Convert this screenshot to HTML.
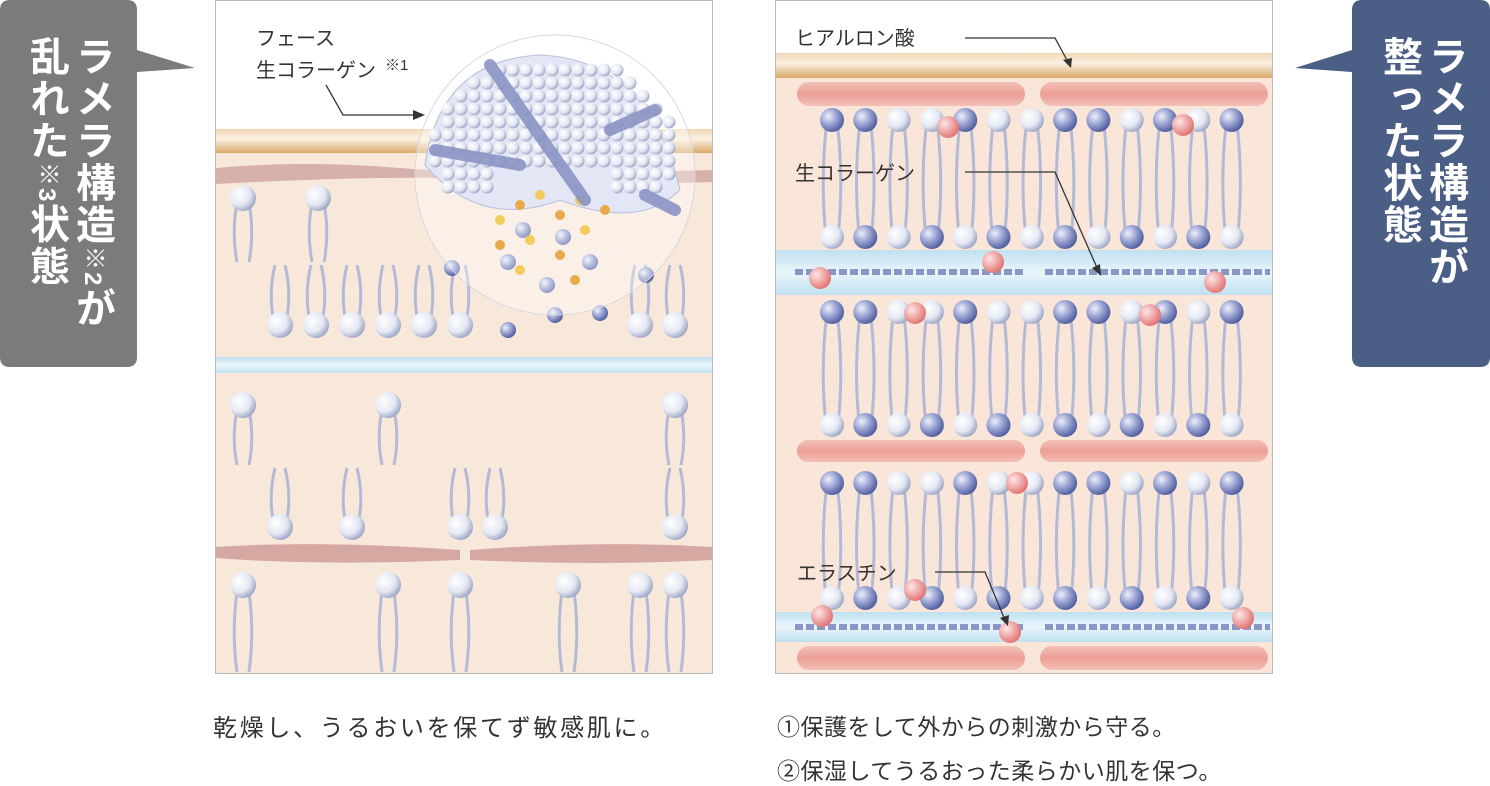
<!DOCTYPE html>
<html><head><meta charset="utf-8"><style>
body{margin:0;width:1490px;height:784px;background:#fff;overflow:hidden;position:relative;font-family:"Liberation Sans","Noto Sans CJK JP",sans-serif}
.cap{position:absolute;font-size:23px;color:#333;letter-spacing:0.5px}
.vt{position:absolute;writing-mode:vertical-rl;color:#fff;font-size:40px;font-weight:bold;line-height:46px;letter-spacing:2px}
</style></head><body>
<svg id="s" width="1490" height="784" style="position:absolute;left:0;top:0">
<defs>
<radialGradient id="hw" cx="0.35" cy="0.35" r="0.7"><stop offset="0" stop-color="#ffffff"/><stop offset="0.6" stop-color="#e4e8f3"/><stop offset="1" stop-color="#9aa3c3"/></radialGradient>
<radialGradient id="hb" cx="0.35" cy="0.35" r="0.7"><stop offset="0" stop-color="#eef0fa"/><stop offset="0.5" stop-color="#98a2d2"/><stop offset="1" stop-color="#4d5a9a"/></radialGradient>
<radialGradient id="hp" cx="0.35" cy="0.35" r="0.7"><stop offset="0" stop-color="#ffe6e6"/><stop offset="1" stop-color="#e0706e"/></radialGradient>
<linearGradient id="band" x1="0" y1="0" x2="0" y2="1"><stop offset="0" stop-color="#f1d7b4"/><stop offset="0.4" stop-color="#fbf1e2"/><stop offset="1" stop-color="#d9aa6a"/></linearGradient>
<linearGradient id="blue" x1="0" y1="0" x2="0" y2="1"><stop offset="0" stop-color="#bfe0f0"/><stop offset="0.5" stop-color="#eaf6fb"/><stop offset="1" stop-color="#bfe0f0"/></linearGradient>
<linearGradient id="pk" x1="0" y1="0" x2="0" y2="1"><stop offset="0" stop-color="#f2c0b8"/><stop offset="0.5" stop-color="#ec9f96"/><stop offset="1" stop-color="#f2c0b8"/></linearGradient>
</defs>
<path d="M10 0 H127 Q137 0 137 10 V50 L195 68 L137 72 V357 Q137 367 127 367 H10 Q0 367 0 357 V10 Q0 0 10 0Z" fill="#7b7b7b"/>
<path d="M1362 0 H1480 Q1490 0 1490 10 V357 Q1490 367 1480 367 H1362 Q1352 367 1352 357 V72 L1295 68 L1352 50 V10 Q1352 0 1362 0Z" fill="#4b5e86"/>
<rect x="215.5" y="0.5" width="497" height="673" fill="#f8e8da" stroke="#bbb"/>
<rect x="216" y="1" width="496" height="128" fill="#fff"/>
<rect x="216" y="129" width="496" height="24" fill="url(#band)"/>
<path d="M216 168 Q300 160 400 168 T712 170 V182 Q600 186 500 180 T216 184Z" fill="#d6b0aa"/>
<rect x="216" y="357" width="496" height="16" fill="url(#blue)"/>
<path d="M216 547 Q320 540 460 550 V560 Q320 566 216 558Z" fill="#d6a8a2"/>
<path d="M470 550 Q600 540 712 547 V560 Q600 566 470 560Z" fill="#d6a8a2"/>
<rect x="775.5" y="0.5" width="497" height="673" fill="#f9e6d8" stroke="#bbb"/>
<rect x="776" y="1" width="496" height="52" fill="#fff"/>
<rect x="776" y="53" width="496" height="25" fill="url(#band)"/>
<rect x="776" y="250" width="496" height="45" fill="url(#blue)"/>
<rect x="776" y="612" width="496" height="30" fill="url(#blue)"/>
<g fill="url(#pk)">
<rect x="797" y="82" width="228" height="24" rx="12"/><rect x="1040" y="82" width="228" height="24" rx="12"/>
<rect x="797" y="440" width="228" height="22" rx="11"/><rect x="1040" y="440" width="228" height="22" rx="11"/>
<rect x="797" y="646" width="228" height="24" rx="12"/><rect x="1040" y="646" width="228" height="24" rx="12"/>
</g>
<g stroke="#8c96c6" stroke-width="6" fill="none" stroke-dasharray="8 3">
<path d="M795 272 H1025"/><path d="M1045 272 H1270"/><path d="M795 627 H1025"/><path d="M1045 627 H1270"/>
</g>
<g id="lip"></g>
<circle cx="555" cy="175" r="140" fill="rgba(255,255,255,0.35)" stroke="#d8d8e0"/>
<path d="M425 165 Q440 60 540 55 Q650 60 680 190 Q640 230 560 200 Q480 230 425 165Z" fill="#e3e7f5" stroke="#b8c0dc"/>
<g id="dots"></g>
<g stroke="#8b94c4" stroke-width="12" stroke-linecap="round" fill="none" opacity="0.9">
<path d="M490 65 L585 200"/><path d="M435 150 L520 165"/><path d="M610 130 L655 110"/><path d="M645 195 L675 210"/>
</g>
<g stroke="#333" stroke-width="1.3" fill="none">
<path d="M326 85 L343 115 H415"/><path d="M965 38 H1055 L1068 62"/><path d="M965 172 H1055 L1098 270"/><path d="M935 572 H985 L1005 620"/>
</g>
<g fill="#333"><path d="M425 115 L413 110 V120Z"/><path d="M1071 68 L1063 60 L1072 58Z"/><path d="M1101 276 L1092 268 L1100 264Z"/><path d="M1008 626 L1000 618 L1009 615Z"/></g>
<g font-size="20" fill="#333" font-family="Liberation Sans,Noto Sans CJK JP,sans-serif">
<text x="256" y="45">フェース</text><text x="256" y="77">生コラーゲン</text><text x="385" y="70" font-size="15">※1</text>
<text x="795" y="45">ヒアルロン酸</text><text x="795" y="180">生コラーゲン</text><text x="797" y="580">エラスチン</text>
</g>
</svg>
<div class="vt" style="right:1375px;top:36px">ラメラ構造<span style="font-size:24px">※2</span>が</div>
<div class="vt" style="right:1421px;top:36px">乱れた<span style="font-size:24px">※3</span>状態</div>
<div class="vt" style="left:1422px;top:36px">ラメラ構造が</div>
<div class="vt" style="left:1376px;top:36px">整った状態</div>
<div class="cap" style="left:213px;top:708px;font-size:24px;letter-spacing:2.7px">乾燥し、うるおいを保てず敏感肌に。</div>
<div class="cap" style="left:777px;top:708px">①保護をして外からの刺激から守る。</div>
<div class="cap" style="left:777px;top:752px">②保湿してうるおった柔らかい肌を保つ。</div>
<script>
var NS="http://www.w3.org/2000/svg",g=document.getElementById('lip');
function el(t,a,p){var e=document.createElementNS(NS,t);for(var k in a)e.setAttribute(k,a[k]);(p||g).appendChild(e);return e;}
function head(x,y,c,r){el('circle',{cx:x,cy:y,r:r||12,fill:'url(#'+c+')'});}
function tails(x,y1,y2){el('path',{d:'M'+(x-5)+' '+y1+' Q'+(x-12)+' '+((y1+y2)/2)+' '+(x-6)+' '+y2+' M'+(x+5)+' '+y1+' Q'+(x+12)+' '+((y1+y2)/2)+' '+(x+6)+' '+y2,stroke:'#b4bad6','stroke-width':3,fill:'none'});}
var cols=[];for(var i=0;i<13;i++)cols.push(832+i*33.3);
[[120,237],[312,425],[483,598]].forEach(function(r){cols.forEach(function(x,i){tails(x,r[0],r[1]);var c=(i%3==1||i%4==0)?'hb':'hw';head(x,r[0],c);head(x,r[1],i%2?'hb':'hw');});});
[[948,127],[993,262],[820,278],[1183,125],[1215,282],[915,313],[1150,315],[1017,483],[915,590],[822,616],[1010,632],[1243,618]].forEach(function(p){head(p[0],p[1],'hp',11);});
[[243,198],[318,198]].forEach(function(p){tails(p[0],p[1],262);head(p[0],p[1],'hw',13);});
[280,316,352,388,424,460,640,675].forEach(function(x){tails(x,265,322);head(x,325,'hw',13);});
[243,388,675].forEach(function(x){tails(x,405,465);head(x,405,'hw',13);});
[280,352,460,495,675].forEach(function(x){tails(x,468,525);head(x,527,'hw',13);});
[243,388,460,568,640,675].forEach(function(x){tails(x,585,672);head(x,585,'hw',13);});
[[452,268],[508,262],[523,230],[563,237],[508,330],[555,315],[600,313],[590,262],[646,275],[547,285]].forEach(function(p){head(p[0],p[1],'hb',8);});
var d=document.getElementById('dots');
for(var y=70;y<200;y+=13)for(var x=435;x<680;x+=13){var dx=x-555,dy=y-150;if(dx*dx/15000+dy*dy/9000<1&&!(y>170&&Math.abs(dx)<60))el('circle',{cx:x,cy:y,r:6.5,fill:'url(#hw)'},d);}
[[500,220],[520,205],[540,195],[560,215],[580,200],[500,245],[530,240],[560,255],[585,230],[605,210],[520,270],[575,280]].forEach(function(p,i){el('circle',{cx:p[0],cy:p[1],r:5,fill:i%2?'#eaaa4a':'#f0cc5a'},d);});
</script>
</body></html>
